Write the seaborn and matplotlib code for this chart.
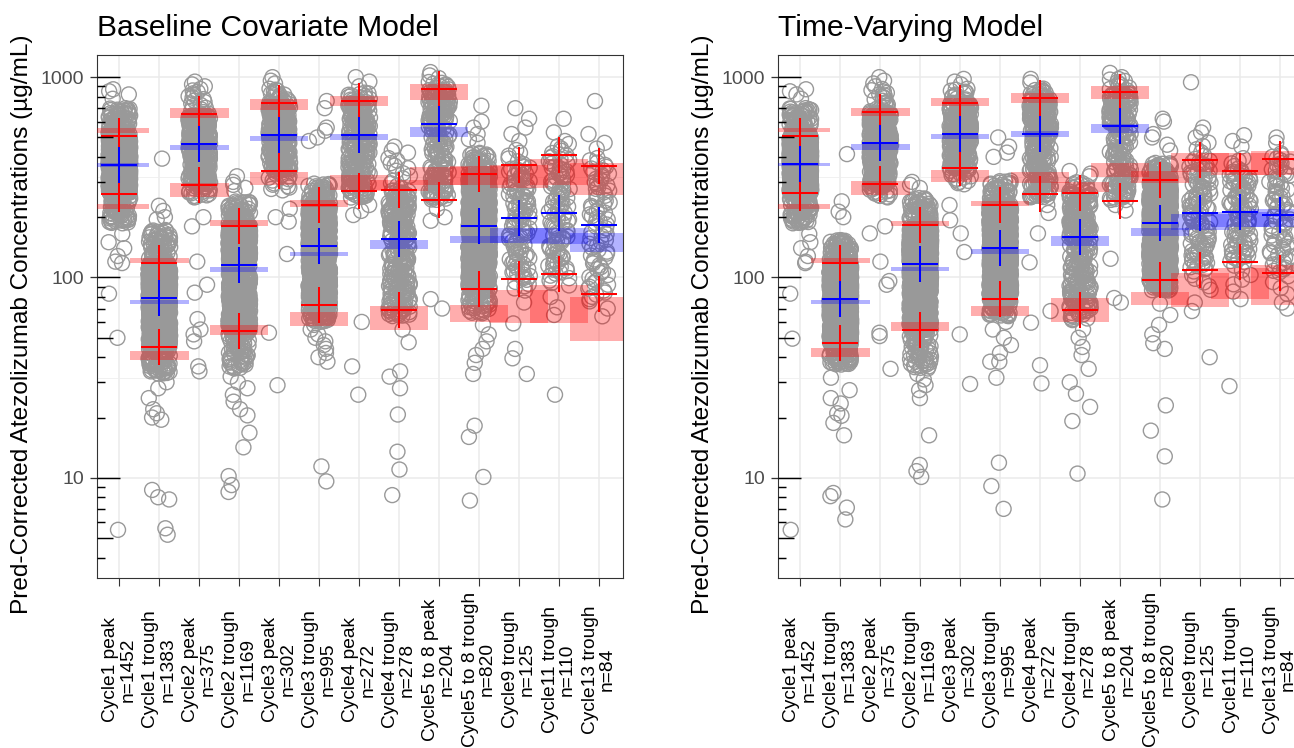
import numpy as np
import pandas as pd
import matplotlib
matplotlib.use("Agg")
import matplotlib.pyplot as plt
import seaborn as sns

# ---------------- data ----------------
categories = ["Cycle1 peak", "Cycle1 trough", "Cycle2 peak", "Cycle2 trough",
              "Cycle3 peak", "Cycle3 trough", "Cycle4 peak", "Cycle4 trough",
              "Cycle5 to 8 peak", "Cycle5 to 8 trough", "Cycle9 trough",
              "Cycle11 trough", "Cycle13 trough"]
n_obs = [1452, 1383, 375, 1169, 302, 995, 272, 278, 204, 820, 125, 110, 84]
panel_titles = ["Baseline Covariate Model", "Time-Varying Model"]
y_label = "Pred-Corrected Atezolizumab Concentrations (µg/mL)"
y_ticks = [10, 100, 1000]
y_ticklabels = ["10", "100", "1000"]
logtick_long = [10, 100, 1000]
logtick_mid = [5, 50, 500]
logtick_short = [4, 6, 7, 8, 9, 20, 30, 40, 60, 70, 80, 90, 200, 300, 400, 600, 700, 800, 900]

# ---- Baseline covariate model panel ----
base_obs_p95 = [509, 118, 652, 181, 747, 229, 756, 272, 869, 327, 365, 411, 361]
base_obs_p50 = [365, 79, 462, 116, 516, 143, 516, 156, 583, 181, 199, 210, 182]
base_obs_p05 = [262, 45, 289, 54, 342, 72.6, 269, 69, 243, 88, 98, 104, 83]
base_hi_band_lo = [528, 118, 628, 180, 689, 225, 720, 269, 765, 289, 279, 290, 259]
base_hi_band_hi = [556, 125, 702, 194, 778, 243, 808, 306, 926, 361, 365, 390, 373]
base_med_band_lo = [357, 74, 431, 106.5, 480, 128, 485, 138, 503, 149, 149, 147, 134]
base_med_band_hi = [372, 77.3, 459, 113, 509, 134.5, 519, 154, 562, 161, 176, 176, 167]
base_lo_band_lo = [219, 38.7, 252, 51.6, 288, 57, 274, 55, 289, 60, 59, 59, 48]
base_lo_band_hi = [234, 42.8, 295, 58.1, 335, 67, 323, 72, 357, 73.3, 87, 92, 80]
base_core_lo = [186, 33, 250, 35, 270, 60, 250, 64, 330, 66, 85, 90, 75]
base_core_hi = [702, 173, 880, 240, 880, 295, 840, 400, 950, 420, 440, 470, 400]
base_high_pts = [[870, 850, 820, 780], [392, 228, 215, 200, 195], [950, 920, 900],
                 [320, 300, 290, 280, 270], [1000, 960, 930], [760, 700, 560, 540, 500, 480],
                 [1000, 950, 900], [450, 430, 420], [1060, 1020, 990],
                 [720, 600, 560, 520, 490, 470], [700, 620, 560, 520, 480],
                 [620, 530, 480], [760, 520, 470, 440]]
base_low_pts = [[165, 150, 140, 128, 120, 118, 83, 50, 5.5],
                [30, 28, 25, 22, 21, 20, 19.5, 8.7, 8, 7.8, 5.6, 5.2],
                [200, 180, 120, 92, 84, 62, 55, 52, 48, 36, 34],
                [32, 30, 28, 26, 24, 22, 20.5, 16.8, 14.2, 10.2, 9.2, 8.5],
                [220, 200, 190, 131, 53, 29],
                [58, 55, 52, 50, 48, 46, 44, 42, 40, 38, 11.4, 9.6],
                [230, 215, 205, 60, 36, 26],
                [55, 47.5, 34, 32, 28, 20.7, 13.5, 11, 8.2],
                [300, 270, 250, 220, 200, 192, 78, 70],
                [58, 52, 48, 44, 41, 37.5, 33, 18.2, 16, 10.1, 7.7],
                [75, 59, 44, 39.5, 33],
                [80, 71, 65, 26],
                [70, 64]]

# ---- Time-varying model panel ----
tv_obs_p95 = [509, 118, 669, 182, 747, 231, 790, 264, 844, 308, 385, 342, 389]
tv_obs_p50 = [368, 78, 467, 116.5, 519, 141, 522, 159, 573, 186, 210, 212, 204]
tv_obs_p05 = [264, 47.2, 293, 54.8, 351, 78, 262, 69, 242, 97.5, 109, 119, 105]
tv_hi_band_lo = [530, 118, 640, 180, 720, 228, 747, 268, 778, 295, 335, 323, 323]
tv_hi_band_hi = [558, 125, 702, 191, 790, 240, 835, 300, 902, 342, 419, 419, 426]
tv_med_band_lo = [361, 74, 435, 108, 489, 131, 500, 144, 526, 161, 173, 179, 179]
tv_med_band_hi = [373, 77.3, 464, 113, 522, 138, 538, 161, 583, 176, 208, 212, 219]
tv_lo_band_lo = [220, 40, 259, 54, 300, 64, 295, 60, 318, 73, 71, 78, 73]
tv_lo_band_hi = [234, 44.4, 303, 60, 344, 72, 335, 79, 374, 85, 105, 111, 115]
tv_core_lo = [186, 36.7, 250, 35, 290, 64, 250, 61, 330, 86, 85, 90, 80]
tv_core_hi = [702, 154, 880, 250, 880, 305, 880, 300, 980, 374, 480, 400, 420]
tv_high_pts = [[870, 850, 820, 780], [413, 240, 213, 200], [1000, 960, 930, 900],
               [300, 290, 280], [980, 950, 920], [500, 450, 420, 400], [980, 940],
               [340, 330, 320], [1050, 1000, 980], [620, 600, 520, 500, 460, 430],
               [943, 560, 530, 500], [513, 480, 450], [500, 470]]
tv_low_pts = [[165, 150, 140, 128, 120, 118, 83, 49.5, 5.5],
              [31.6, 27.4, 25, 23.5, 21, 20.4, 18.8, 16.3, 8.4, 8.1, 7.1, 6.2],
              [180, 166, 120, 96, 92, 53, 51, 35],
              [33, 31, 29, 27.4, 25, 16.3, 11.6, 10.8, 10.1],
              [230, 193, 166, 134, 52, 29.4],
              [60, 55, 50, 46, 42, 38, 38, 31.6, 11.9, 9.1, 7],
              [230, 210, 166, 119, 68, 59.5, 36.5, 29.6],
              [55, 50, 45, 41, 35, 30, 26.3, 22.6, 19.2, 10.5],
              [300, 260, 230, 216, 124, 79, 75],
              [74, 65, 58, 52, 47, 44, 23, 17.2, 12.8, 7.8],
              [75, 68, 40],
              [85, 78, 28.7],
              [75, 70]]

panels = [
    dict(title=panel_titles[0], p95=base_obs_p95, p50=base_obs_p50, p05=base_obs_p05,
         hb=(base_hi_band_lo, base_hi_band_hi), mb=(base_med_band_lo, base_med_band_hi),
         lb=(base_lo_band_lo, base_lo_band_hi), clo=base_core_lo, chi=base_core_hi,
         highs=base_high_pts, lows=base_low_pts),
    dict(title=panel_titles[1], p95=tv_obs_p95, p50=tv_obs_p50, p05=tv_obs_p05,
         hb=(tv_hi_band_lo, tv_hi_band_hi), mb=(tv_med_band_lo, tv_med_band_hi),
         lb=(tv_lo_band_lo, tv_lo_band_hi), clo=tv_core_lo, chi=tv_core_hi,
         highs=tv_high_pts, lows=tv_low_pts),
]

# ---------------- style ----------------
sns.set_theme(style="white")
plt.rcParams["font.family"] = ["Liberation Sans", "DejaVu Sans"]
PT = 72 / 100.0  # points per pixel at dpi 100

labels = [f"{c}\nn={n}" for c, n in zip(categories, n_obs)]


def observations(n, lo, p05, p50, p95, hi, highs, lows):
    """Observed values: sparse points read from the chart plus the dense core,
    spread over the quantiles read from the chart."""
    n_core = n - len(highs) - len(lows)
    probs = (np.arange(n_core) + 0.5) / n_core
    core = 10 ** np.interp(probs, [0, 0.05, 0.5, 0.95, 1.0],
                           np.log10([lo, p05, p50, p95, hi]))
    return np.concatenate([np.array(lows, float), core, np.array(highs, float)])


W, H = 1294, 748
AX_W = 526
fig = plt.figure(figsize=(W / 100, H / 100), dpi=100)
fig.patch.set_facecolor("white")


def px_axes(left, top, width, height):
    return fig.add_axes([left / W, 1 - (top + height) / H, width / W, height / H])


axes = [px_axes(97, 55, AX_W, 523), px_axes(778, 55, AX_W, 523)]
xpos = np.arange(len(categories))

for ax, pn in zip(axes, panels):
    ax.set_yscale("log")
    frames = []
    for i, lab in enumerate(labels):
        vals = observations(n_obs[i], pn["clo"][i], pn["p05"][i], pn["p50"][i],
                            pn["p95"][i], pn["chi"][i], pn["highs"][i], pn["lows"][i])
        frames.append(pd.DataFrame({"category": lab, "value": vals}))
    df = pd.concat(frames, ignore_index=True)

    n_before = len(ax.collections)
    sns.stripplot(data=df, x="category", y="value", order=labels, jitter=0.27,
                  size=10.8, color="#999999", ax=ax, zorder=2)
    for coll in ax.collections[n_before:]:
        coll.set_facecolor("none")
        coll.set_edgecolor("#999999")
        coll.set_linewidth(1.0)

    # simulated prediction-interval bands
    for (blo, bhi), col, alpha in [(pn["hb"], "#FF0000", 0.32),
                                   (pn["lb"], "#FF0000", 0.32),
                                   (pn["mb"], "#0000FF", 0.30)]:
        blo = np.array(blo, float)
        bhi = np.array(bhi, float)
        ax.bar(xpos, bhi - blo, bottom=blo, width=1.46, color=col, alpha=alpha,
               linewidth=0, zorder=3)

    # observed percentiles
    ax.plot(xpos, pn["p95"], ls="none", marker="+", ms=26.6, mew=1.45, color="#FF0000", zorder=5)
    ax.plot(xpos, pn["p05"], ls="none", marker="+", ms=26.6, mew=1.45, color="#FF0000", zorder=5)
    ax.plot(xpos, pn["p50"], ls="none", marker="+", ms=26.6, mew=1.45, color="#0000FF", zorder=5)

    ax.set_xlim(-0.56, 12.6)
    ax.set_ylim(3.945, 1290)

    # x axis
    ax.set_xticks(xpos)
    ax.set_xticklabels(labels, rotation=90, ha="center", va="center",
                       multialignment="center", linespacing=1.0,
                       fontsize=13.8, color="black")
    ax.tick_params(axis="x", which="major", direction="out", length=7.5 * PT,
                   width=1.1 * PT, color="#333333", pad=84 * PT, bottom=True)
    ax.set_xlabel("")

    # y axis
    ax.set_yticks(y_ticks)
    ax.set_yticklabels(y_ticklabels)
    ax.set_yticks([10 ** 0.5, 10 ** 1.5, 10 ** 2.5], minor=True)
    ax.set_yticklabels([], minor=True)
    ax.tick_params(axis="y", which="major", direction="out", length=7.5 * PT,
                   width=1.3 * PT, color="#333333", labelsize=14,
                   labelcolor="#4D4D4D", pad=5.5 * PT, left=True)
    ax.tick_params(axis="y", which="minor", length=0, left=True)
    ax.set_ylabel(y_label, fontsize=17.6, color="black", va="center")
    ax.yaxis.set_label_coords(-75 / AX_W, 0.485)

    # grid
    ax.grid(False)
    ax.set_axisbelow(True)
    ax.xaxis.grid(True, which="major", color="#EBEBEB", linewidth=1.5 * PT)
    ax.yaxis.grid(True, which="major", color="#EBEBEB", linewidth=1.5 * PT)
    ax.yaxis.grid(True, which="minor", color="#EEEEEE", linewidth=0.8 * PT)

    for sp in ax.spines.values():
        sp.set_visible(True)
        sp.set_color("#333333")
        sp.set_linewidth(1.1 * PT)

    # log ticks drawn inside the left axis (y in data units, x in axes fraction)
    ytrans = ax.get_yaxis_transform()
    for vals, length_px in [(logtick_long, 23), (logtick_mid, 16), (logtick_short, 8)]:
        ax.hlines(vals, 0, length_px / AX_W, transform=ytrans, colors="black",
                  linewidth=1.45 * PT, zorder=6)

    ax.set_title(pn["title"], loc="left", fontsize=21.6, pad=13.5, color="black")

fig.savefig("out.png", dpi=100, facecolor="white")
